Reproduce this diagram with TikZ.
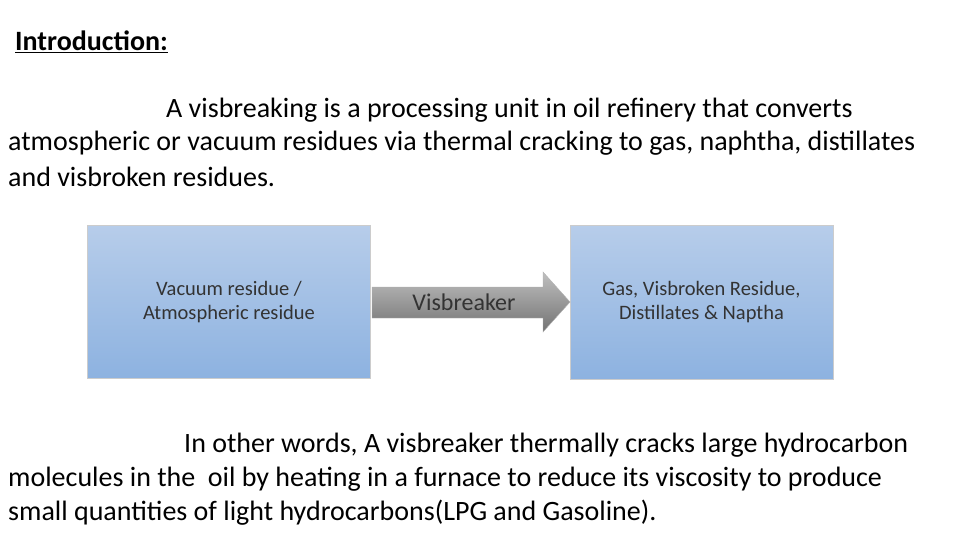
\documentclass[tikz,border=0pt]{standalone}
\usepackage{fontspec}
\setmainfont{Carlito}
\begin{document}
\begin{tikzpicture}[x=1pt,y=-1pt,
  txt/.style={anchor=west,inner sep=0pt,font=\fontsize{28}{32}\selectfont},
  bt/.style={align=center,font=\fontsize{20.5}{24}\selectfont,text=black!80}]
\useasboundingbox (0,0) rectangle (960,540);
\definecolor{btop}{RGB}{183,205,234}
\definecolor{bbot}{RGB}{141,178,224}
\node[anchor=west,inner sep=0pt,font=\fontsize{28}{32}\selectfont\bfseries] (t) at (15,42) {\underline{Introduction:}};
\node[txt] (p1) at (166,110) {A visbreaking is a processing unit in oil refinery that converts};
\node[txt] (p2) at (8,143) {atmospheric or vacuum residues via thermal cracking to gas, naphtha, distillates};
\node[txt] (p3) at (8,177) {and visbroken residues.};
\shade[top color=btop,bottom color=bbot,draw=black!20] (87,225) rectangle (370,378);
\node[bt] (a) at (229,302) {Vacuum residue /\\Atmospheric residue};
\shade[top color=btop,bottom color=bbot,draw=black!20] (570,225) rectangle (833,379);
\node[bt] (b) at (701.5,302) {Gas, Visbroken Residue,\\Distillates \& Naptha};
\shade[top color=black!25,bottom color=black!55,draw=black!30] (372,287) -- (543,287) -- (543,272) -- (570,302) -- (543,332) -- (543,318) -- (372,318) -- cycle;
\node[font=\fontsize{24}{28}\selectfont,text=black!80] (v) at (464,302) {Visbreaker};
\node[txt] (q1) at (184,445) {In other words, A visbreaker thermally cracks large hydrocarbon};
\node[txt] (q2) at (8,479) {molecules in the\ \ oil by heating in a furnace to reduce its viscosity to produce};
\node[txt] (q3) at (8,513) {small quantities of light hydrocarbons(LPG and Gasoline).};
\end{tikzpicture}
\end{document}
